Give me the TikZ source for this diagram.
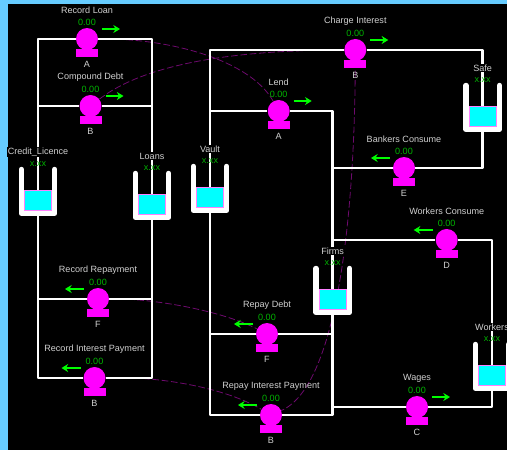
\documentclass[tikz,border=0pt]{standalone}
\usepackage{fontspec}
\setmainfont{Liberation Sans}
\usetikzlibrary{arrows.meta}
\definecolor{frameblue}{HTML}{66CCFF}
\definecolor{labelgrey}{HTML}{D0D0D0}
\definecolor{valgreen}{HTML}{00B400}
\definecolor{pumpmag}{HTML}{FF00FF}
\definecolor{dashpurple}{HTML}{6E0A6E}
\definecolor{fluidpink}{HTML}{FF80FF}
\definecolor{fluidcyan}{HTML}{00FFFF}
\pgfdeclarelayer{wires}
\pgfsetlayers{wires,main}
\tikzset{
  lbl/.style={text=labelgrey,font=\fontsize{6.8}{8}\selectfont,inner sep=0.6pt},
  tanklbl/.style={lbl,fill=black},
  val/.style={text=valgreen,font=\fontsize{6.8}{8}\selectfont,inner sep=0pt},
  pumpbody/.style={circle,fill=pumpmag,minimum size=16.5pt,inner sep=0pt},
  pumpbase/.style={rectangle,fill=pumpmag,minimum width=16.5pt,minimum height=6.2pt,inner sep=0pt},
  flowarrow/.style={draw=green,line width=1.3pt,-{Stealth[length=5pt,width=6pt]}},
  pipe/.style={draw=white,line width=1.9pt,line join=round},
  tankwall/.style={draw=white,line width=4.1pt,line join=round,line cap=round},
  fluid/.style={rectangle,fill=fluidcyan,draw=fluidpink,line width=0.6pt,minimum width=20.5pt,minimum height=15pt,inner sep=0pt},
  influence/.style={draw=dashpurple,line width=0.6pt,dash pattern=on 5pt off 2pt}
}
% name, x, y, title, letter, direction
\newcommand{\PumpUnit}[6]{%
  \node[pumpbody] (#1) at (#2,#3) {};
  \node[pumpbase] (#1base) at (#2,#3+14) {};
  \node[lbl] (#1letter) at (#2,#3+25) {#5};
  \node[lbl] (#1title) at (#2,#3-29) {#4};
  \node[val] (#1val) at (#2,#3-17) {0.00};
  \ifnum#6>0
    \coordinate (#1from) at (#2+15,#3-10);
    \coordinate (#1to) at (#2+33,#3-10);
  \else
    \coordinate (#1from) at (#2-14,#3-10);
    \coordinate (#1to) at (#2-33,#3-10);
  \fi
  \draw[flowarrow] (#1from) -- (#1to);
}
% name, x, top, title
\newcommand{\TankUnit}[4]{%
  \coordinate (#1) at (#2,#3+30);
  \draw[tankwall] (#2-16.7,#3+2.5) -- (#2-16.7,#3+46.3) -- (#2+16.7,#3+46.3) -- (#2+16.7,#3+2.5);
  \node[fluid] (#1fluid) at (#2,#3+33.5) {};
  \node[tanklbl] (#1title) at (#2,#3-15) {#4};
  \node[val] (#1val) at (#2,#3-3) {x.xx};
}
\begin{document}
\begin{tikzpicture}[x=0.75pt,y=-0.75pt]
\useasboundingbox (0,0) rectangle (507,450);
\clip (0,0) rectangle (507,450);
\begin{pgfonlayer}{wires}
\fill[frameblue] (0,0) rectangle (507,450);
\fill[black] (7.5,3.5) rectangle (507,450);
\end{pgfonlayer}

\TankUnit{credit}{38}{167}{Credit\_Licence}
\TankUnit{loans}{152}{171}{Loans}
\TankUnit{vault}{210}{164}{Vault}
\TankUnit{safe}{482.7}{83}{Safe}
\TankUnit{firms}{332.7}{266}{Firms}
\TankUnit{workers}{492}{342}{Workers}

\PumpUnit{rl}{87}{39}{Record Loan}{A}{1}
\PumpUnit{cd}{90.5}{106}{Compound Debt}{B}{1}
\PumpUnit{rr}{98}{299}{Record Repayment}{F}{-1}
\PumpUnit{ri}{94.5}{378}{Record Interest Payment}{B}{-1}
\PumpUnit{ci}{355.3}{50}{Charge Interest}{B}{1}
\PumpUnit{lend}{278.7}{111}{Lend}{A}{1}
\PumpUnit{bc}{404}{168}{Bankers Consume}{E}{-1}
\PumpUnit{wc}{446.7}{240}{Workers Consume}{D}{-1}
\PumpUnit{rd}{267}{334}{Repay Debt}{F}{-1}
\PumpUnit{rip}{271}{415}{Repay Interest Payment}{B}{-1}
\PumpUnit{wages}{417}{407}{Wages}{C}{1}

\begin{pgfonlayer}{wires}
\draw[influence] (rl) .. controls (170,38) and (250,60) .. (lend);
\draw[influence] (cd) .. controls (150,60) and (250,50) .. (ci);
\draw[influence] (ci) .. controls (355,200) and (340,385) .. (rip);
\draw[influence] (rr) .. controls (150,298) and (220,310) .. (rd);
\draw[influence] (ri) .. controls (150,376) and (220,385) .. (rip);

\draw[pipe] (credit) |- (rl) -| (loans);
\draw[pipe] (credit) |- (cd) -| (loans);
\draw[pipe] (credit) |- (rr) -| (loans);
\draw[pipe] (credit) |- (ri) -| (loans);
\draw[pipe] (vault) |- (ci) -| (safe);
\draw[pipe] (vault) |- (lend) -| (firms);
\draw[pipe] (vault) |- (rd) -| (firms);
\draw[pipe] (vault) |- (rip) -| (firms);
\draw[pipe] (firms) |- (bc) -| (safe);
\draw[pipe] (firms) |- (wc) -| (workers);
\draw[pipe] (firms) |- (wages) -| (workers);
\end{pgfonlayer}
\end{tikzpicture}
\end{document}
